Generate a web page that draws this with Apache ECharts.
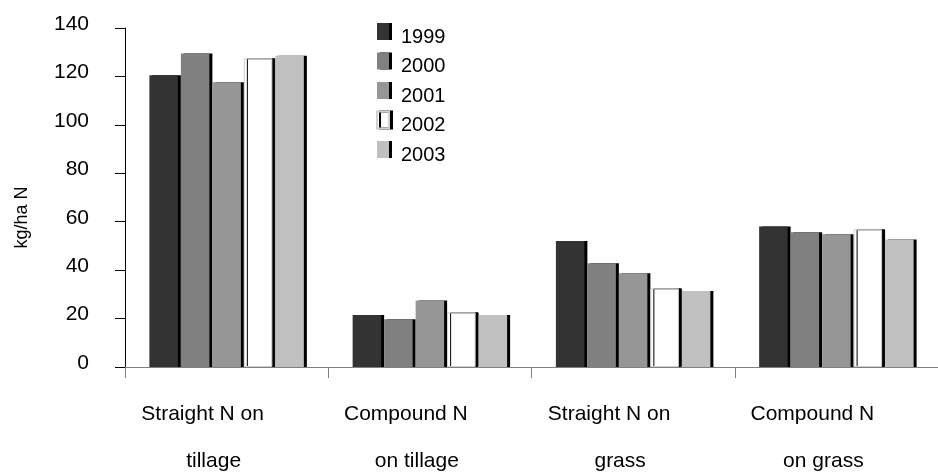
<!DOCTYPE html>
<html>
<head>
<meta charset="utf-8">
<script src="https://cdn.jsdelivr.net/npm/echarts@6/dist/echarts.min.js"></script>
<style>html,body{margin:0;padding:0;background:#fff;}#c{width:938px;height:476px;}</style>
</head>
<body>
<div id="c"></div>
<script>
var categories = [
  ['Straight N on', 'tillage'],
  ['Compound N', 'on tillage'],
  ['Straight N on', 'grass'],
  ['Compound N', 'on grass']
];
var years = ['1999', '2000', '2001', '2002', '2003'];
var v1999 = [120.5, 21.5, 52.0, 58.0];
var v2000 = [129.5, 19.7, 42.8, 55.6];
var v2001 = [117.6, 27.5, 38.7, 54.8];
var v2002 = [127.5, 22.6, 32.5, 56.9];
var v2003 = [128.5, 21.5, 31.4, 52.7];
var yTicks = [0, 20, 40, 60, 80, 100, 120, 140];

var values = [v1999, v2000, v2001, v2002, v2003];
var colors = ['#333333', '#808080', '#969696', '#ffffff', '#c0c0c0'];
var FONT = '"Liberation Sans", Arial, sans-serif';

var series = years.map(function (y, i) {
  return {
    name: y,
    type: 'bar',
    data: values[i],
    barWidth: 28.5,
    barGap: '10.5%',
    itemStyle: {
      color: colors[i],
      borderColor: i === 3 ? '#d0d0d0' : colors[i],
      borderWidth: i === 3 ? 1 : 0,
      shadowColor: '#000',
      shadowOffsetX: 3,
      shadowOffsetY: 0,
      shadowBlur: 0
    },
    emphasis: { disabled: true }
  };
});

var chart = echarts.init(document.getElementById('c'), null, { renderer: 'canvas' });
chart.setOption({
  backgroundColor: '#ffffff',
  animation: false,
  grid: { left: 125, top: 28, width: 823, height: 339, containLabel: false },
  legend: {
    orient: 'vertical',
    left: 376,
    top: 16,
    padding: 0,
    itemWidth: 12,
    itemHeight: 17,
    itemGap: -1.5,
    icon: 'rect',
    data: years,
    itemStyle: {
      shadowColor: '#000',
      shadowOffsetX: 3,
      shadowOffsetY: 0,
      shadowBlur: 0
    },
    formatter: '{t|{name}}',
    textStyle: {
      fontFamily: FONT,
      fontSize: 20,
      color: '#000',
      rich: {
        t: { fontFamily: FONT, fontSize: 20, color: '#000', lineHeight: 17, padding: [11, 0, 0, 7] }
      }
    }
  },
  xAxis: {
    type: 'category',
    data: categories.map(function (c) { return c[0] + '|' + c[1]; }),
    axisLine: { show: true, lineStyle: { color: '#808080', width: 1 } },
    axisTick: { show: true, alignWithLabel: false, length: 11, lineStyle: { color: '#808080' } },
    axisLabel: {
      interval: 0,
      margin: 24,
      fontFamily: FONT,
      fontSize: 21,
      color: '#000',
      formatter: function (v) {
        var p = v.split('|');
        return '{a|' + p[0] + '}\n{b|' + p[1] + '}';
      },
      rich: {
        a: { fontFamily: FONT, fontSize: 21, color: '#000', lineHeight: 47, padding: [0, 48, 0, 0] },
        b: { fontFamily: FONT, fontSize: 21, color: '#000', lineHeight: 47, padding: [0, 26, 0, 0] }
      }
    },
    splitLine: { show: false }
  },
  yAxis: {
    type: 'value',
    min: yTicks[0],
    max: yTicks[yTicks.length - 1],
    interval: yTicks[1] - yTicks[0],
    name: 'kg/ha N',
    nameLocation: 'middle',
    nameGap: 94,
    nameRotate: 90,
    nameTextStyle: { fontFamily: FONT, fontSize: 18, color: '#000', padding: [0, 40, 0, 0] },
    axisLine: { show: true, lineStyle: { color: '#000', width: 1 } },
    axisTick: { show: true, inside: false, length: 10, lineStyle: { color: '#000' } },
    axisLabel: {
      margin: 36,
      fontFamily: FONT,
      fontSize: 21,
      color: '#000',
      formatter: '{v|{value}}',
      rich: {
        v: { fontFamily: FONT, fontSize: 21, color: '#000', padding: [0, 0, 8, 0] }
      }
    },
    splitLine: { show: false }
  },
  series: series
});
</script>
</body>
</html>
